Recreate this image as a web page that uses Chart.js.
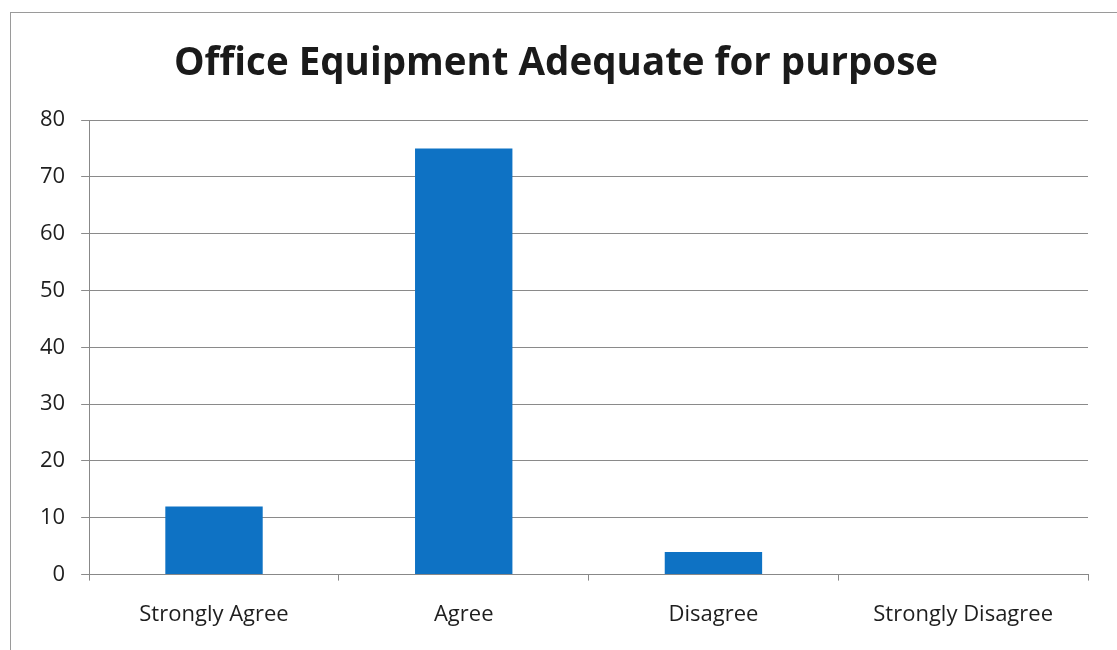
<!DOCTYPE html>
<html>
<head>
<meta charset="utf-8">
<script src="https://cdn.jsdelivr.net/npm/chart.js@4/dist/chart.umd.min.js"></script>
<style>
  html, body { margin: 0; padding: 0; background: #fff; }
  #wrap { width: 1117px; height: 650px; position: relative; }
</style>
</head>
<body>
<div id="wrap"><canvas id="chart"></canvas></div>
<script>
const categories = ['Strongly Agree', 'Agree', 'Disagree', 'Strongly Disagree'];
const responses = [12, 75, 4, 0];
const yTicks = [0, 10, 20, 30, 40, 50, 60, 70, 80];

// thin grey frame round the whole chart
const frame = {
  id: 'frame',
  beforeDraw(chart) {
    const c = chart.ctx;
    c.save();
    c.strokeStyle = '#9a9a9a';
    c.lineWidth = 1;
    c.strokeRect(10.5, 12.5, 1120, 650);
    c.restore();
  }
};

new Chart(document.getElementById('chart'), {
  type: 'bar',
  data: {
    labels: categories,
    datasets: [{
      data: responses,
      backgroundColor: '#0e72c4',
      categoryPercentage: 1,
      barPercentage: 0.39
    }]
  },
  options: {
    responsive: true,
    maintainAspectRatio: false,
    animation: false,
    layout: { padding: { left: 24, right: 29, top: 12, bottom: 1 } },
    plugins: {
      legend: { display: false },
      tooltip: { enabled: false },
      title: {
        display: true,
        text: 'Office Equipment Adequate for purpose',
        color: '#1a1a1a',
        font: { family: 'Open Sans', size: 38.5, weight: 'bold' },
        padding: { top: 29, bottom: 33 }
      }
    },
    scales: {
      x: {
        offset: true,
        grid: { display: true, drawOnChartArea: false, offset: true, tickLength: 6, color: '#888' },
        border: { color: '#888' },
        ticks: { color: '#1e1e1e', padding: 21, font: { family: 'Open Sans', size: 22 } }
      },
      y: {
        min: 0, max: 80,
        afterBuildTicks(axis) { axis.ticks = yTicks.map(v => ({ value: v })); },
        grid: { color: '#8a8a8a', tickLength: 8 },
        border: { color: '#888' },
        ticks: { color: '#1e1e1e', padding: 16, font: { family: 'Open Sans', size: 22 } }
      }
    }
  },
  plugins: [frame]
});
</script>
</body>
</html>
